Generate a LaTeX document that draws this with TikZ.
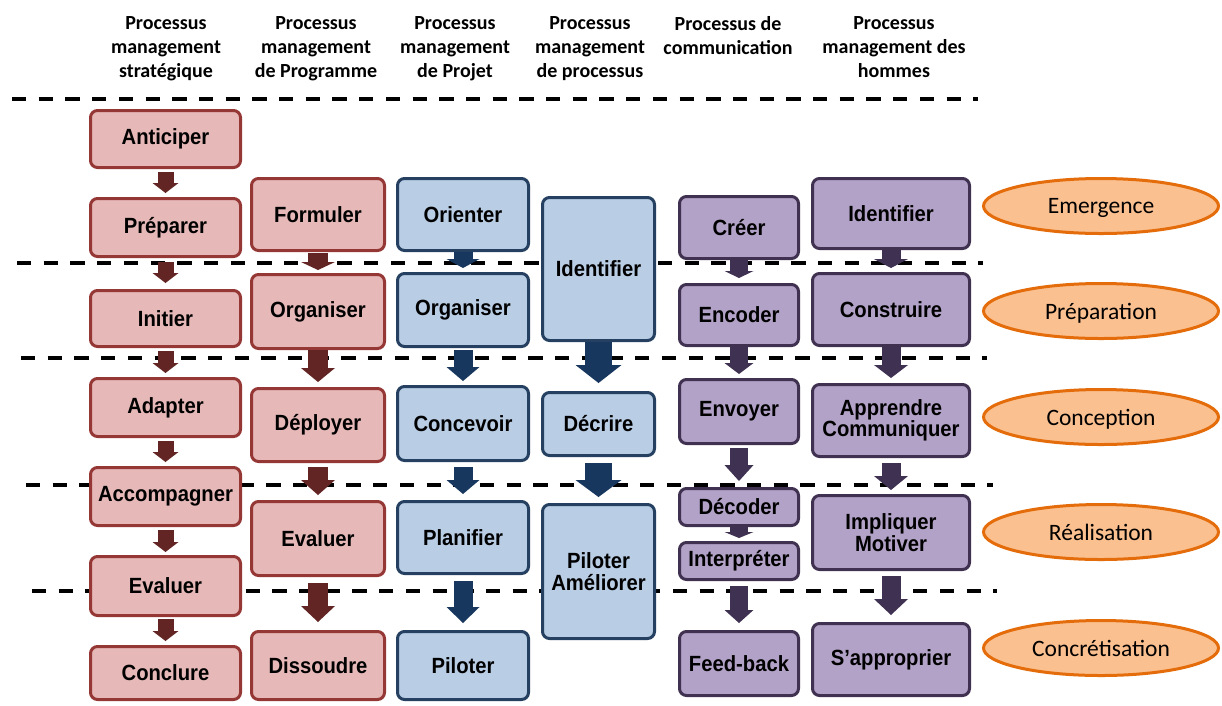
\documentclass[tikz,border=0pt]{standalone}
\usepackage{fontspec}
\setmainfont{Liberation Sans}
\newfontfamily\boxfont{Liberation Sans}[FakeStretch=0.92]
\newfontfamily\calib{Carlito}
\usetikzlibrary{shapes.geometric, arrows.meta}
\definecolor{stratfill}{HTML}{E6B9B8}
\definecolor{stratline}{HTML}{953735}
\definecolor{stratarr}{HTML}{632523}
\definecolor{projfill}{HTML}{B9CDE5}
\definecolor{projline}{HTML}{254061}
\definecolor{projarr}{HTML}{17375E}
\definecolor{commfill}{HTML}{B3A2C7}
\definecolor{commline}{HTML}{403151}
\definecolor{commarr}{HTML}{3F3151}
\definecolor{phasefill}{HTML}{FAC090}
\definecolor{phaseline}{HTML}{E46C0A}

\begin{document}
\begin{tikzpicture}[
  x=1pt, y=-1pt,
  box/.style={rectangle, rounded corners=7pt, line width=3pt, inner sep=2pt,
              font=\boxfont\fontsize{22}{21.5}\selectfont\bfseries, align=center},
  strat/.style={box, draw=stratline, fill=stratfill},
  proj/.style={box, draw=projline, fill=projfill},
  comm/.style={box, draw=commline, fill=commfill},
  phase/.style={ellipse, draw=phaseline, fill=phasefill, line width=3pt,
                minimum width=235pt, minimum height=55pt, inner sep=0pt, text depth=0pt,
                font=\calib\fontsize{23.5}{25}\selectfont},
  ttl/.style={anchor=north, align=center, font=\calib\bfseries\fontsize{20}{24}\selectfont},
  sep/.style={line width=3.3pt, dash pattern=on 14.3pt off 12.4pt},
  barr/.style n args={4}{draw=#1, line width=#2pt,
                -{Triangle[width=#3pt, length=#4pt, line width=0pt]}}
]
  \path[use as bounding box, fill=white] (0,0) rectangle (1222,705);

  % Column titles
  \node[ttl] (ttlA) at (166,13) {Processus\\management\\stratégique};
  \node[ttl] (ttlB) at (316,13) {Processus\\management\\de Programme};
  \node[ttl] (ttlC) at (455,13) {Processus\\management\\de Projet};
  \node[ttl] (ttlD) at (590,13) {Processus\\management\\de processus};
  \node[ttl] (ttlE) at (728,13) {Processus de\\communication};
  \node[ttl] (ttlF) at (894,13) {Processus\\management des\\hommes};

  % Phase separators
  \draw[sep] (12,99)  -- (978,99);
  \draw[sep] (17,263) -- (983,263);
  \draw[sep] (21,358) -- (987,358);
  \draw[sep] (26,485) -- (993,485);
  \draw[sep] (32,591) -- (997,591);

  % Management strategique
  \node[strat, minimum width=150pt, minimum height=57pt] (anticiper)   at (165.5,139)   {Anticiper};
  \node[strat, minimum width=150pt, minimum height=58pt] (preparer)    at (165.5,227.5) {Préparer};
  \node[strat, minimum width=150pt, minimum height=56pt] (initier)     at (165.5,318.5) {Initier};
  \node[strat, minimum width=150pt, minimum height=58pt] (adapter)     at (165.5,407.5) {Adapter};
  \node[strat, minimum width=150pt, minimum height=58pt] (accompagner) at (165.5,496.5) {Accompagner};
  \node[strat, minimum width=150pt, minimum height=59pt] (evaluerA)    at (165.5,586)   {Evaluer};
  \node[strat, minimum width=150pt, minimum height=53pt] (conclure)    at (165.5,673)   {Conclure};

  % Management de programme
  \node[strat, minimum width=133pt, minimum height=72pt] (formuler)   at (318,214.5) {Formuler};
  \node[strat, minimum width=133pt, minimum height=74pt] (organiserB) at (318,311.5) {Organiser};
  \node[strat, minimum width=133pt, minimum height=73pt] (deployer)   at (318,425)   {Déployer};
  \node[strat, minimum width=133pt, minimum height=74pt] (evaluerB)   at (318,538.5) {Evaluer};
  \node[strat, minimum width=133pt, minimum height=68pt] (dissoudre)  at (318,665.5) {Dissoudre};

  % Management de projet
  \node[proj, minimum width=131pt, minimum height=72pt] (orienter)   at (463,214.5) {Orienter};
  \node[proj, minimum width=131pt, minimum height=73pt] (organiserC) at (463,310)   {Organiser};
  \node[proj, minimum width=131pt, minimum height=74pt] (concevoir)  at (463,423.5) {Concevoir};
  \node[proj, minimum width=131pt, minimum height=72pt] (planifier)  at (463,537.5) {Planifier};
  \node[proj, minimum width=131pt, minimum height=68pt] (piloterC)   at (463,665.5) {Piloter};

  % Management de processus
  \node[proj, minimum width=112pt, minimum height=143pt] (identifierD) at (598.5,269)   {Identifier};
  \node[proj, minimum width=112pt, minimum height=63pt]  (decrire)     at (598.5,424)   {Décrire};
  \node[proj, minimum width=112pt, minimum height=134pt] (piloterD)    at (598.5,571.5) {Piloter\\Améliorer};

  % Communication
  \node[comm, minimum width=119pt, minimum height=62pt] (creer)       at (739,227.5) {Créer};
  \node[comm, minimum width=119pt, minimum height=61pt] (encoder)     at (739,315)   {Encoder};
  \node[comm, minimum width=119pt, minimum height=64pt] (envoyer)     at (739,411.5) {Envoyer};
  \node[comm, minimum width=119pt, minimum height=37pt] (decoder)     at (739,507)   {Décoder};
  \node[comm, minimum width=119pt, minimum height=37pt] (interpreter) at (739,561)   {Interpréter};
  \node[comm, minimum width=119pt, minimum height=64pt] (feedback)    at (739,663.5) {Feed-back};

  % Management des hommes
  \node[comm, minimum width=157pt, minimum height=70pt] (identifierF) at (891,213.5) {Identifier};
  \node[comm, minimum width=157pt, minimum height=72pt] (construire)  at (891,309.5) {Construire};
  \node[comm, minimum width=157pt, minimum height=72pt] (apprendre)   at (891,420.5) {Apprendre\\Communiquer};
  \node[comm, minimum width=157pt, minimum height=74pt] (impliquer)   at (891,532.5) {Impliquer\\Motiver};
  \node[comm, minimum width=157pt, minimum height=72pt] (approprier)  at (891,659.5) {S’approprier};

  % Phases
  \node[phase] (emergence)   at (1101,206) {Emergence};
  \node[phase] (preparation) at (1101,311) {Préparation};
  \node[phase] (conception)  at (1101,417) {Conception};
  \node[phase] (realisation) at (1101,532) {Réalisation};
  \node[phase] (concretis)   at (1101,648) {Concrétisation};

  % Block arrows
  \foreach \a/\b/\s/\t in {anticiper/preparer/3/4, preparer/initier/4/6,
      initier/adapter/3/4, adapter/accompagner/3/4,
      accompagner/evaluerA/3/3, evaluerA/conclure/2/4}
    \draw[barr={stratarr}{16}{26}{10}] ([yshift=-\s pt]\a.south) -- ([yshift=\t pt]\b.north);
  \foreach \a/\b/\s/\t/\l in {formuler/organiserB/1/3/8, organiserB/deployer/0/5/14,
      deployer/evaluerB/4/5/15, evaluerB/dissoudre/6/8/16}
    \draw[barr={stratarr}{20}{34}{\l}] ([yshift=-\s pt]\a.south) -- ([yshift=\t pt]\b.north);
  \foreach \a/\b/\s/\t/\l in {orienter/organiserC/0/4/9, organiserC/concevoir/2/4/14,
      concevoir/planifier/5/6/14, planifier/piloterC/6/7/16}
    \draw[barr={projarr}{19}{33}{\l}] ([yshift=-\s pt]\a.south) -- ([yshift=\t pt]\b.north);
  \foreach \a/\b/\s/\t/\l in {identifierD/decrire/0/8/18, decrire/piloterD/6/6/17}
    \draw[barr={projarr}{27}{46}{\l}] ([yshift=-\s pt]\a.south) -- ([yshift=\t pt]\b.north);
  \foreach \a/\b/\s/\t/\l in {creer/encoder/0/5/7, encoder/envoyer/0/4/11,
      envoyer/decoder/3/6/16, decoder/interpreter/0/3/6, interpreter/feedback/5/7/13}
    \draw[barr={commarr}{18}{29}{\l}] ([yshift=-\s pt]\a.south) -- ([yshift=\t pt]\b.north);
  \foreach \a/\b/\s/\t/\l in {identifierF/construire/0/4/9, construire/apprendre/0/5/13,
      apprendre/impliquer/5/4/14, impliquer/approprier/5/7/16}
    \draw[barr={commarr}{19}{34}{\l}] ([yshift=-\s pt]\a.south) -- ([yshift=\t pt]\b.north);
\end{tikzpicture}
\end{document}
